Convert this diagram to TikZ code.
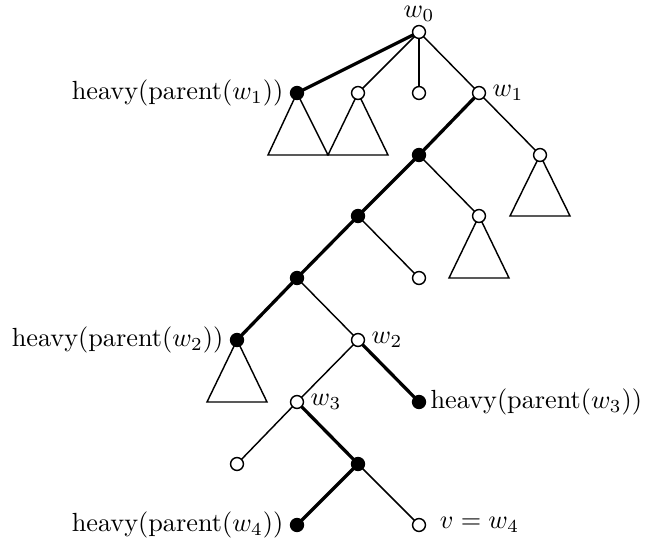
\documentclass[tikz,border=0pt]{standalone}
\begin{document}
\begin{tikzpicture}[x=0.381pt,y=-0.381pt,
  vtx/.style={circle,draw,line width=0.55pt,minimum size=4.9pt,inner sep=0pt},
  open/.style={vtx,fill=white},
  full/.style={vtx,fill=black},
  thin/.style={line width=0.55pt},
  heavyedge/.style={line width=1.25pt},
  tri/.style={draw,line width=0.55pt,line join=miter},
  lbl/.style={inner sep=0pt}]
\useasboundingbox (0,0) rectangle (645,551);
% triangles (drawn first)
\coordinate (t1a) at (268,155); \coordinate (t1b) at (328,155);
\coordinate (t2a) at (328,155); \coordinate (t2b) at (388,155);
\coordinate (t3a) at (510,216); \coordinate (t3b) at (570,216);
\coordinate (t4a) at (449,278); \coordinate (t4b) at (509,278);
\coordinate (t5a) at (207,402); \coordinate (t5b) at (267,402);
\path (419,32) coordinate (pw0)
      (297,93) coordinate (pa)
      (358,93) coordinate (pb)
      (419,93) coordinate (pc)
      (479,93) coordinate (pw1)
      (540,155) coordinate (pd)
      (419,155) coordinate (pe)
      (358,216) coordinate (pf)
      (479,216) coordinate (pg)
      (297,278) coordinate (ph)
      (419,278) coordinate (pi)
      (237,340) coordinate (pj)
      (358,340) coordinate (pw2)
      (297,402) coordinate (pw3)
      (419,402) coordinate (pk)
      (237,464) coordinate (pl)
      (358,464) coordinate (pm)
      (297,525) coordinate (pn)
      (419,525) coordinate (pw4);
\draw[tri] (pa) -- (t1a) -- (t1b) -- cycle;
\draw[tri] (pb) -- (t2a) -- (t2b) -- cycle;
\draw[tri] (pd) -- (t3a) -- (t3b) -- cycle;
\draw[tri] (pg) -- (t4a) -- (t4b) -- cycle;
\draw[tri] (pj) -- (t5a) -- (t5b) -- cycle;
% edges
\draw[heavyedge] (pw0) -- (pa);
\draw[thin] (pw0) -- (pb);
\draw[thin] (pw0) -- (pc);
\draw[thin] (pw0) -- (pw1);
\draw[heavyedge] (pw1) -- (pe);
\draw[thin] (pw1) -- (pd);
\draw[heavyedge] (pe) -- (pf);
\draw[thin] (pe) -- (pg);
\draw[heavyedge] (pf) -- (ph);
\draw[thin] (pf) -- (pi);
\draw[heavyedge] (ph) -- (pj);
\draw[thin] (ph) -- (pw2);
\draw[thin] (pw2) -- (pw3);
\draw[heavyedge] (pw2) -- (pk);
\draw[thin] (pw3) -- (pl);
\draw[heavyedge] (pw3) -- (pm);
\draw[heavyedge] (pm) -- (pn);
\draw[thin] (pm) -- (pw4);
% vertices
\node[open] (w0) at (pw0) {};
\node[full] (a) at (pa) {};
\node[open] (b) at (pb) {};
\node[open] (c) at (pc) {};
\node[open] (w1) at (pw1) {};
\node[open] (d) at (pd) {};
\node[full] (e) at (pe) {};
\node[full] (f) at (pf) {};
\node[open] (g) at (pg) {};
\node[full] (h) at (ph) {};
\node[open] (i) at (pi) {};
\node[full] (j) at (pj) {};
\node[open] (w2) at (pw2) {};
\node[open] (w3) at (pw3) {};
\node[full] (k) at (pk) {};
\node[open] (l) at (pl) {};
\node[full] (m) at (pm) {};
\node[full] (n) at (pn) {};
\node[open] (w4) at (pw4) {};
% labels
\node[lbl,anchor=south] (lw0) at ([yshift=1.2pt]w0.north) {$w_0$};
\node[lbl,anchor=east] (la) at ([xshift=-2.3pt]a.west) {heavy(parent($w_1$))};
\node[lbl,anchor=west] (lw1) at ([xshift=2.3pt]w1.east) {$w_1$};
\node[lbl,anchor=east] (lj) at ([xshift=-2.3pt]j.west) {heavy(parent($w_2$))};
\node[lbl,anchor=west] (lw2) at ([xshift=2.3pt]w2.east) {$w_2$};
\node[lbl,anchor=west] (lw3) at ([xshift=2.3pt]w3.east) {$w_3$};
\node[lbl,anchor=west] (lk) at ([xshift=1.5pt]k.east) {heavy(parent($w_3$))};
\node[lbl,anchor=east] (ln) at ([xshift=-2.3pt]n.west) {heavy(parent($w_4$))};
\node[lbl,anchor=west] (lw4) at ([xshift=5pt]w4.east) {$v=w_4$};
\end{tikzpicture}
\end{document}
